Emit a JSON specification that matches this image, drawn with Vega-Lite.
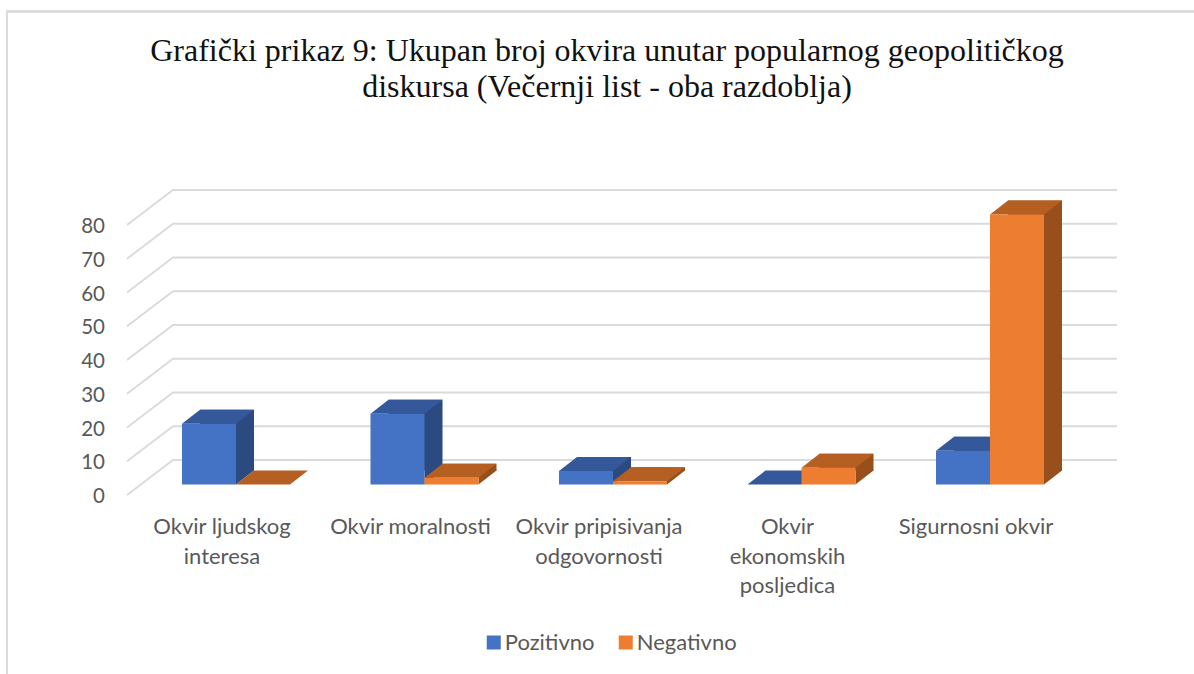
{
"$schema":"https://vega.github.io/schema/vega-lite/v6.json",
"width":942.5,"height":270,"autosize":{"type":"none"},
"padding":{"left":141.75,"top":214.5,"right":109.75,"bottom":189.5},
"background":"white",
"title":{"text":["Grafički prikaz 9: Ukupan broj okvira unutar popularnog geopolitičkog","diskursa (Večernji list - oba razdoblja)"],"font":"Liberation Serif","fontSize":32,"fontWeight":"normal","color":"#111111","anchor":"middle","frame":"group","dx":-6,"offset":-121,"lineHeight":36,"baseline":"alphabetic"},
"config":{"view":{"stroke":null},"font":"Lato"},
"datasets":{
"bars":[
{"okvir":"Okvir ljudskog interesa","serija":"Pozitivno","broj":18},
{"okvir":"Okvir ljudskog interesa","serija":"Negativno","broj":0},
{"okvir":"Okvir moralnosti","serija":"Pozitivno","broj":21},
{"okvir":"Okvir moralnosti","serija":"Negativno","broj":2},
{"okvir":"Okvir pripisivanja odgovornosti","serija":"Pozitivno","broj":4},
{"okvir":"Okvir pripisivanja odgovornosti","serija":"Negativno","broj":1},
{"okvir":"Okvir ekonomskih posljedica","serija":"Pozitivno","broj":0},
{"okvir":"Okvir ekonomskih posljedica","serija":"Negativno","broj":5},
{"okvir":"Sigurnosni okvir","serija":"Pozitivno","broj":10},
{"okvir":"Sigurnosni okvir","serija":"Negativno","broj":80}],
"ticks":[{"t":0},{"t":10},{"t":20},{"t":30},{"t":40},{"t":50},{"t":60},{"t":70},{"t":80}]
},
"layer":[
{"data":{"name":"ticks"},
 "mark":{"type":"point","shape":"M-229,189.5L-229,-473L958,-473","size":4,"filled":false,"stroke":"#dcdcdc","strokeWidth":2,"opacity":1},
 "encoding":{"x":{"datum":"Okvir ljudskog interesa","type":"nominal","axis":null,"scale":{"domain":["Okvir ljudskog interesa","Okvir moralnosti","Okvir pripisivanja odgovornosti","Okvir ekonomskih posljedica","Sigurnosni okvir"],"paddingInner":0.427,"paddingOuter":0.2135}},
 "y":{"datum":0,"type":"quantitative","scale":{"domain":[0,80],"nice":false},"axis":null}}},
{"data":{"name":"ticks"},
 "mark":{"type":"point","shape":"M-109,10.5L-63,-24.5L881,-24.5","size":4,"filled":false,"stroke":"#dadada","strokeWidth":1.8,"opacity":1},
 "encoding":{"x":{"datum":"Okvir ljudskog interesa","type":"nominal","axis":null,"scale":{"domain":["Okvir ljudskog interesa","Okvir moralnosti","Okvir pripisivanja odgovornosti","Okvir ekonomskih posljedica","Sigurnosni okvir"],"paddingInner":0.427,"paddingOuter":0.2135}},
 "y":{"field":"t","type":"quantitative","axis":null}}},
{"data":{"name":"ticks"},
 "mark":{"type":"text","align":"right","baseline":"middle","dx":-131,"dy":12.5,"font":"Lato","fontSize":20.5,"color":"#595959"},
 "encoding":{"x":{"datum":"Okvir ljudskog interesa","type":"nominal","axis":null,"scale":{"domain":["Okvir ljudskog interesa","Okvir moralnosti","Okvir pripisivanja odgovornosti","Okvir ekonomskih posljedica","Sigurnosni okvir"],"paddingInner":0.427,"paddingOuter":0.2135}},
 "y":{"field":"t","type":"quantitative","axis":null},
 "text":{"field":"t","type":"quantitative"}}},
{"data":{"name":"bars"},"mark":{"type":"bar","yOffset":-14,"y2Offset":-14},
 "encoding":{"x":{"field":"okvir","type":"nominal","axis":null,"scale":{"domain":["Okvir ljudskog interesa","Okvir moralnosti","Okvir pripisivanja odgovornosti","Okvir ekonomskih posljedica","Sigurnosni okvir"],"paddingInner":0.427,"paddingOuter":0.2135,"range":[18,960.5]}},"xOffset":{"field":"serija","type":"nominal","sort":["Pozitivno","Negativno"],"scale":{"paddingInner":0,"paddingOuter":0}},
 "y":{"field":"broj","type":"quantitative","stack":null,"axis":null},"y2":{"datum":0},
 "color":{"field":"serija","type":"nominal","legend":null,"scale":{"domain":["Pozitivno","Negativno"],"range":["#2b4a80","#97501c"]}}}},
{"data":{"name":"bars"},"transform":[{"filter":"datum.broj>0"}],"mark":{"type":"point","shape":"M27,0L45,-14L45,-15L27,-15Z","size":4,"filled":true,"opacity":1},
 "encoding":{"x":{"field":"okvir","type":"nominal","axis":null,"scale":{"domain":["Okvir ljudskog interesa","Okvir moralnosti","Okvir pripisivanja odgovornosti","Okvir ekonomskih posljedica","Sigurnosni okvir"],"paddingInner":0.427,"paddingOuter":0.2135}},"xOffset":{"field":"serija","type":"nominal","sort":["Pozitivno","Negativno"],"scale":{"type":"band","paddingInner":0,"paddingOuter":0}},
 "y":{"datum":0,"type":"quantitative","axis":null},
 "color":{"field":"serija","type":"nominal","legend":null,"scale":{"domain":["Pozitivno","Negativno"],"range":["#2b4a80","#97501c"]}}}},
{"data":{"name":"bars"},"mark":{"type":"point","shape":"M-27,0L27,0L45,-14L-9,-14Z","size":4,"filled":true,"opacity":1},
 "encoding":{"x":{"field":"okvir","type":"nominal","axis":null,"scale":{"domain":["Okvir ljudskog interesa","Okvir moralnosti","Okvir pripisivanja odgovornosti","Okvir ekonomskih posljedica","Sigurnosni okvir"],"paddingInner":0.427,"paddingOuter":0.2135}},"xOffset":{"field":"serija","type":"nominal","sort":["Pozitivno","Negativno"],"scale":{"type":"band","paddingInner":0,"paddingOuter":0}},
 "y":{"field":"broj","type":"quantitative","axis":null},
 "color":{"field":"serija","type":"nominal","legend":null,"scale":{"domain":["Pozitivno","Negativno"],"range":["#34589a","#b55f23"]}}}},
{"data":{"name":"bars"},"mark":{"type":"bar"},
 "encoding":{"x":{"field":"okvir","type":"nominal","title":null,"scale":{"domain":["Okvir ljudskog interesa","Okvir moralnosti","Okvir pripisivanja odgovornosti","Okvir ekonomskih posljedica","Sigurnosni okvir"],"paddingInner":0.427,"paddingOuter":0.2135},"axis":{"domain":false,"ticks":false,"grid":false,"labelAngle":0,"labelOffset":-14,"labelPadding":32,"labelFont":"Lato","labelFontSize":22,"labelColor":"#595959","labelLimit":400,"labelLineHeight":29.5,"labelBaseline":"top",
   "labelExpr":"datum.label=='Okvir ljudskog interesa'?['Okvir ljudskog','interesa']:datum.label=='Okvir pripisivanja odgovornosti'?['Okvir pripisivanja','odgovornosti']:datum.label=='Okvir ekonomskih posljedica'?['Okvir','ekonomskih','posljedica']:datum.label"}},
 "xOffset":{"field":"serija","type":"nominal","sort":["Pozitivno","Negativno"],"scale":{"paddingInner":0,"paddingOuter":0}},
 "y":{"field":"broj","type":"quantitative","stack":null,"axis":null},"y2":{"datum":0},
 "color":{"field":"serija","type":"nominal","title":null,"scale":{"domain":["Pozitivno","Negativno"],"range":["#4472c4","#ed7d31"]},
  "legend":{"orient":"none","legendX":341,"legendY":417,"direction":"horizontal","columns":2,"symbolType":"square","symbolSize":196,"symbolStrokeWidth":0,"labelFont":"Lato","labelFontSize":22,"labelColor":"#595959","columnPadding":20,"labelOffset":0,"title":null}}}}
],
"resolve":{"scale":{"color":"independent","x":"independent","xOffset":"independent"}}
}
